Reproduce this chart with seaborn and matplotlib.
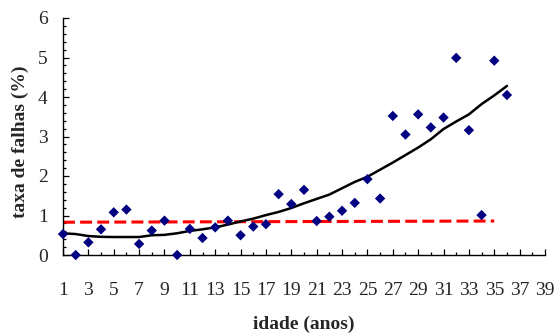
import numpy as np
import pandas as pd
import matplotlib
matplotlib.use("Agg")
import matplotlib.pyplot as plt
from matplotlib.ticker import MultipleLocator
import seaborn as sns

# --- Data ---
idade = list(range(1, 37))
taxa = [0.53, 0.0, 0.32, 0.65, 1.08, 1.15, 0.28, 0.62, 0.87, 0.0,
        0.66, 0.43, 0.70, 0.87, 0.50, 0.72, 0.78, 1.54, 1.29, 1.65,
        0.86, 0.97, 1.12, 1.32, 1.92, 1.43, 3.52, 3.05, 3.56, 3.23,
        3.48, 4.99, 3.16, 1.01, 4.92, 4.05]
ajuste = [0.55, 0.53, 0.48, 0.46, 0.455, 0.455, 0.455, 0.50, 0.51, 0.55,
          0.61, 0.65, 0.70, 0.77, 0.85, 0.92, 1.01, 1.09, 1.19, 1.31,
          1.42, 1.53, 1.69, 1.85, 1.98, 2.16, 2.34, 2.53, 2.72, 2.93,
          3.19, 3.38, 3.56, 3.82, 4.04, 4.28]
media_x = [1, 35]
media_y = [0.83, 0.86]

df = pd.DataFrame({"idade": idade, "taxa": taxa, "ajuste": ajuste})
df_media = pd.DataFrame({"idade": media_x, "taxa": media_y})

# --- Style ---
sns.set_style("ticks")
plt.rcParams["font.family"] = ["Liberation Serif", "DejaVu Serif"]

fig = plt.figure(figsize=(5.55, 3.36), dpi=100)
ax = fig.add_axes((63 / 555, 81 / 336, 482 / 555, 237 / 336))

sns.lineplot(data=df_media, x="idade", y="taxa", ax=ax, color="#ff0000",
             linewidth=2.2, dashes=False, zorder=2)
ax.lines[-1].set_dashes((3.9, 1.7))
sns.lineplot(data=df, x="idade", y="ajuste", ax=ax, color="black",
             linewidth=1.8, zorder=2)
sns.scatterplot(data=df, x="idade", y="taxa", ax=ax, marker="D", s=28,
                color="#000080", edgecolor="none", zorder=4, clip_on=False)

ax.set_xlim(1, 39)
ax.set_ylim(0, 6)
ax.xaxis.set_minor_locator(MultipleLocator(1))
ax.yaxis.set_major_locator(MultipleLocator(1))
ax.yaxis.set_minor_locator(MultipleLocator(0.2))
ax.set_xticks(range(1, 40, 2))

ax.tick_params(axis="both", which="both", direction="in", color="black", width=0.9)
ax.tick_params(axis="both", which="major", length=4.5, labelsize=14)
ax.tick_params(axis="both", which="minor", length=2.5)
ax.tick_params(axis="x", which="major", pad=19.5)
ax.tick_params(axis="y", which="major", pad=11)

sns.despine(ax=ax)
for side in ["left", "bottom"]:
    ax.spines[side].set_color("black")
    ax.spines[side].set_linewidth(1.0)

ax.set_xlabel("idade (anos)", fontsize=14, fontweight="bold", labelpad=12)
ax.set_ylabel("taxa de falhas (%)", fontsize=14, fontweight="bold")
ax.yaxis.set_label_coords(-0.070, 0.477)

fig.savefig("out.png", dpi=100)
